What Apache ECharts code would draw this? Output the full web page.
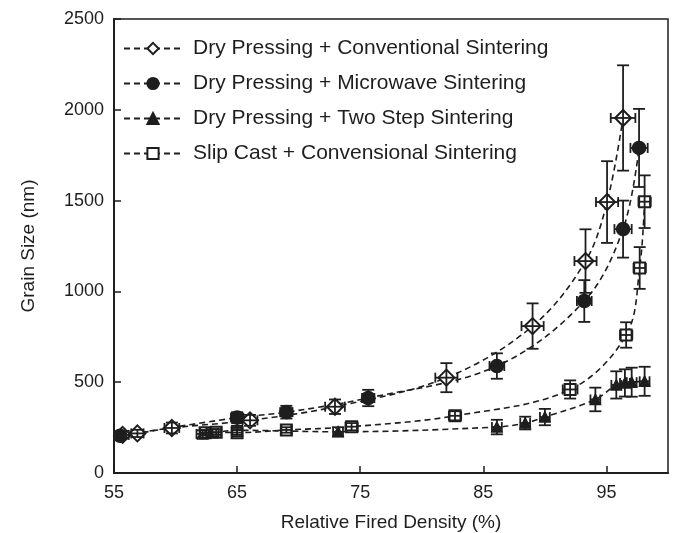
<!DOCTYPE html>
<html><head><meta charset="utf-8">
<script src="https://cdn.jsdelivr.net/npm/echarts@6/dist/echarts.min.js"></script>
<style>html,body{margin:0;padding:0;background:#fff}#c{width:674px;height:533px}</style>
</head><body><div id="c"></div>
<script>
// ---- data ----
const seriesNames = [
  'Dry Pressing + Conventional Sintering',
  'Dry Pressing + Microwave Sintering',
  'Dry Pressing + Two Step Sintering',
  'Slip Cast + Convensional Sintering'
];
const xTicks = [55, 65, 75, 85, 95];
const yTicks = [0, 500, 1000, 1500, 2000, 2500];

const convDensity = [55.7, 56.9, 59.7, 66.05, 72.95, 82.0, 89.0, 93.3, 95.05, 96.35];
const convGrain   = [210, 218, 248, 290, 365, 525, 809, 1167, 1492, 1955];
const convDensErr = [0.5, 0.5, 0.6, 0.6, 0.8, 0.9, 0.9, 0.9, 0.9, 1.0];
const convGrainErr= [20, 20, 30, 30, 40, 80, 125, 175, 225, 290];

const microDensity = [55.5, 65.0, 69.0, 75.65, 86.1, 93.2, 96.35, 97.65];
const microGrain   = [205, 305, 335, 413, 589, 947, 1343, 1790];
const microDensErr = [0.4, 0.5, 0.5, 0.5, 0.6, 0.6, 0.7, 0.7];
const microGrainErr= [20, 30, 35, 45, 70, 115, 157, 215];

const twoDensity = [62.2, 63.0, 65.0, 73.2, 86.1, 88.4, 90.0, 94.1, 95.8, 96.5, 97.05, 98.1];
const twoGrain   = [215, 222, 235, 227, 253, 275, 308, 405, 485, 496, 500, 505];
const twoDensErr = [0.5, 0.5, 0.4, 0.4, 0.4, 0.4, 0.4, 0.4, 0.4, 0.4, 0.4, 0.4];
const twoGrainErr= [20, 20, 25, 25, 40, 35, 45, 65, 75, 75, 80, 80];

const slipDensity = [62.4, 63.3, 65.0, 69.0, 74.3, 82.7, 92.05, 96.6, 97.7, 98.1];
const slipGrain   = [222, 225, 222, 237, 255, 315, 460, 760, 1129, 1494];
const slipDensErr = [0.4, 0.4, 0.4, 0.4, 0.5, 0.5, 0.6, 0.5, 0.5, 0.5];
const slipGrainErr= [15, 15, 20, 15, 20, 25, 50, 70, 115, 145];

// ---- build ----
const INK = '#1e1e1e';
const FONT = 'Liberation Sans, Arial, Helvetica, sans-serif';
function pts(xs, ys){ return xs.map((x,i)=>[x, ys[i]]); }
function errs(xs, ys, ex, ey){ return xs.map((x,i)=>[x, ys[i], ex[i], ey[i]]); }

function errRender(params, api){
  const x=api.value(0), y=api.value(1), ex=api.value(2), ey=api.value(3);
  const t=api.coord([x, y+ey]), b=api.coord([x, y-ey]);
  const l=api.coord([x-ex, y]), r=api.coord([x+ex, y]);
  const cw=6, ch=5;
  const st={stroke:INK, lineWidth:1.8};
  const L=(x1,y1,x2,y2)=>({type:'line', shape:{x1,y1,x2,y2}, style:st});
  return {type:'group', children:[
    L(t[0],t[1],b[0],b[1]),
    L(t[0]-cw,t[1],t[0]+cw,t[1]),
    L(b[0]-cw,b[1],b[0]+cw,b[1]),
    L(l[0],l[1],r[0],r[1]),
    L(l[0],l[1]-ch,l[0],l[1]+ch),
    L(r[0],r[1]-ch,r[0],r[1]+ch)
  ]};
}

const defs = [
  {name:seriesNames[0], x:convDensity, y:convGrain, ex:convDensErr, ey:convGrainErr, symbol:'emptyDiamond', size:16},
  {name:seriesNames[1], x:microDensity, y:microGrain, ex:microDensErr, ey:microGrainErr, symbol:'circle', size:13},
  {name:seriesNames[2], x:twoDensity, y:twoGrain, ex:twoDensErr, ey:twoGrainErr, symbol:'triangle', size:10},
  {name:seriesNames[3], x:slipDensity, y:slipGrain, ex:slipDensErr, ey:slipGrainErr, symbol:'emptyRect', size:11}
];

const series = [];
defs.forEach((d,i)=>{
  series.push({
    type:'line', name:d.name, data:pts(d.x,d.y), smooth:0.35,
    symbol:d.symbol, symbolSize:d.size, showAllSymbol:true,
    lineStyle:{color:INK, width:1.6, type:[6,4]},
    itemStyle:{color:INK, borderColor:INK, borderWidth:1.6},
    z:3, animation:false
  });
  series.push({
    type:'custom', name:'err'+i, data:errs(d.x,d.y,d.ex,d.ey),
    renderItem:errRender, encode:{x:0,y:1}, z:4, silent:true, animation:false
  });
});

const chart = echarts.init(document.getElementById('c'), null, {renderer:'canvas'});
chart.setOption({
  animation:false,
  backgroundColor:'#fff',
  textStyle:{fontFamily:FONT, color:INK},
  grid:{left:114, right:6, top:19, bottom:60, containLabel:false, outerBoundsMode:'none',
        show:true, borderColor:INK, borderWidth:1.5, backgroundColor:'transparent'},
  legend:{
    data:seriesNames, orient:'vertical', left:118, top:33, itemWidth:58, itemHeight:14, itemGap:14,
    textStyle:{fontSize:21, color:INK, fontFamily:FONT, padding:[0,0,0,6]}
  },
  xAxis:{
    type:'value', min:xTicks[0], max:100, interval:xTicks[1]-xTicks[0],
    name:'Relative Fired Density (%)', nameLocation:'middle', nameGap:40,
    nameTextStyle:{fontSize:19, color:INK, fontFamily:FONT},
    axisLine:{lineStyle:{color:INK, width:2}},
    axisTick:{inside:true, length:7, lineStyle:{color:INK, width:1.5}},
    axisLabel:{fontSize:18, color:INK, margin:11, showMaxLabel:false, fontFamily:FONT},
    splitLine:{show:false}
  },
  yAxis:{
    type:'value', min:yTicks[0], max:yTicks[yTicks.length-1], interval:yTicks[1]-yTicks[0],
    name:'Grain Size (nm)', nameLocation:'middle', nameGap:76,
    nameTextStyle:{fontSize:19, color:INK, fontFamily:FONT},
    axisLine:{lineStyle:{color:INK, width:2}},
    axisTick:{inside:true, length:7, lineStyle:{color:INK, width:1.5}},
    axisLabel:{fontSize:18, color:INK, margin:10, fontFamily:FONT, formatter:v=>String(v)},
    splitLine:{show:false}
  },
  series
});
</script></body></html>
